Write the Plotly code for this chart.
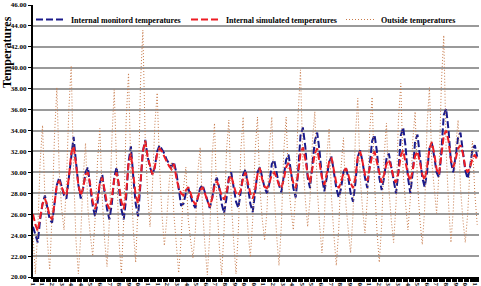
import plotly.graph_objects as go

# readings every 4 hours (day by day: 0h,4h,8h,12h,16h,20h)
outside = [
    24.0, 20.3, 24.5, 31.0, 34.5, 27.5,
    23.5, 20.7, 26.0, 33.5, 38.1, 30.0,
    26.5, 24.5, 29.0, 36.0, 40.2, 30.0,
    23.5, 20.3, 24.0, 29.5, 32.8, 26.5,
    24.0, 22.0, 25.5, 31.0, 34.2, 27.5,
    23.5, 21.0, 25.5, 33.0, 37.9, 29.5,
    23.5, 20.3, 25.5, 35.0, 39.5, 30.0,
    24.5, 21.4, 27.0, 38.5, 43.6, 33.0,
    28.0, 24.8, 28.5, 34.5, 37.6, 30.5,
    26.0, 23.0, 25.5, 29.0, 31.0, 26.0,
    23.0, 20.4, 23.5, 28.5, 30.5, 25.5,
    23.5, 21.8, 24.5, 30.0, 32.4, 26.5,
    23.0, 20.2, 24.0, 31.5, 34.7, 27.0,
    23.0, 20.2, 24.5, 32.0, 35.0, 27.5,
    23.5, 20.3, 24.5, 32.0, 35.3, 28.0,
    24.5, 21.9, 25.5, 32.0, 35.3, 28.5,
    25.5, 23.5, 26.5, 32.5, 35.3, 28.0,
    24.0, 21.1, 25.0, 32.0, 35.3, 29.0,
    26.5, 24.5, 28.0, 35.5, 39.8, 31.0,
    27.5, 24.8, 27.5, 33.0, 35.8, 28.5,
    25.0, 22.3, 25.5, 31.5, 34.2, 27.5,
    24.0, 21.1, 24.5, 30.5, 33.3, 27.0,
    24.5, 22.3, 26.0, 33.5, 37.1, 29.5,
    26.5, 24.2, 27.5, 34.0, 37.2, 29.0,
    24.5, 21.4, 25.0, 31.5, 34.7, 28.5,
    25.5, 23.3, 27.0, 35.0, 38.5, 30.0,
    27.0, 24.5, 27.5, 33.0, 35.8, 29.0,
    25.5, 23.1, 26.5, 34.5, 38.1, 31.0,
    28.5, 26.1, 30.0, 38.5, 43.1, 32.0,
    27.0, 23.3, 26.5, 32.5, 35.0, 28.5,
    25.5, 23.3, 26.0, 30.5, 33.0, 28.0,
    25.0,
]

monitored = [
    24.8, 24.0, 23.3, 25.5, 27.0, 27.8,
    26.8, 25.5, 25.2, 27.0, 28.8, 29.5,
    28.5, 27.8, 27.5, 29.5, 32.0, 33.4,
    31.0, 28.8, 27.5, 28.5, 30.0, 30.5,
    28.5, 26.8, 25.8, 27.0, 29.0, 29.8,
    28.0, 26.5, 25.5, 27.0, 29.5, 30.5,
    28.5, 26.5, 25.5, 27.5, 31.0, 32.5,
    29.5, 27.0, 25.8, 28.5, 32.0, 33.1,
    31.5, 30.5, 29.8, 30.5, 32.0, 32.6,
    32.2, 31.8, 31.2, 30.8, 30.5, 31.0,
    30.0, 28.5, 26.8, 27.0, 28.0, 28.5,
    27.8, 27.0, 26.6, 27.5, 28.5, 28.8,
    28.0, 27.2, 26.6, 27.5, 29.0, 29.5,
    28.5, 27.0, 26.1, 27.5, 29.5, 30.0,
    28.5, 27.2, 26.6, 28.0, 29.8, 30.3,
    28.5, 27.0, 26.2, 28.0, 30.0, 30.5,
    29.5, 28.5, 28.0, 29.0, 30.8, 31.2,
    30.0, 28.8, 28.1, 29.5, 31.2, 31.7,
    30.0, 28.5, 27.6, 30.0, 33.5, 34.3,
    32.5, 29.5, 28.5, 30.5, 33.0, 33.8,
    32.0, 29.5, 28.2, 29.5, 31.0, 31.5,
    30.0, 28.5, 27.6, 28.5, 30.0, 30.5,
    29.5, 28.0, 27.2, 29.0, 31.5, 32.1,
    31.0, 29.5, 28.5, 30.5, 33.0, 33.6,
    32.0, 29.5, 28.3, 29.5, 31.3, 31.8,
    30.5, 29.0, 28.0, 30.0, 33.5, 34.3,
    32.5, 29.5, 28.0, 30.0, 33.0, 33.6,
    31.5, 29.5, 28.6, 30.0, 32.3, 32.8,
    31.5, 30.0, 29.5, 32.0, 35.5, 36.1,
    34.0, 31.0, 30.0, 31.5, 33.3, 33.8,
    32.0, 30.2, 29.4, 30.5, 32.2, 32.6,
    31.5,
]

simulated = [
    26.0, 25.0, 24.4, 25.8, 27.0, 27.5,
    26.8, 25.8, 25.5, 27.0, 28.8, 29.2,
    28.5, 28.0, 27.8, 29.5, 31.8, 32.5,
    30.8, 28.8, 27.8, 28.5, 29.8, 30.0,
    28.8, 27.2, 26.5, 27.5, 29.0, 29.5,
    28.3, 27.0, 26.5, 27.5, 29.3, 30.0,
    28.8, 27.2, 26.5, 28.0, 30.8, 31.8,
    29.8, 27.8, 27.0, 29.0, 32.0, 33.0,
    31.5, 30.5, 29.8, 30.5, 31.8, 32.3,
    32.0, 31.5, 31.0, 30.6, 30.3, 30.8,
    29.5, 28.5, 28.0, 27.8, 28.3, 28.6,
    28.0, 27.3, 26.9, 27.5, 28.3, 28.6,
    28.0, 27.3, 26.7, 27.5, 28.7, 29.2,
    28.5, 27.8, 27.4, 28.0, 29.3, 29.7,
    28.8, 28.0, 27.8, 28.3, 29.5, 30.0,
    29.0, 28.0, 27.5, 28.3, 29.8, 30.4,
    29.3, 28.6, 28.5, 29.0, 29.8, 30.0,
    29.5, 28.8, 28.5, 29.3, 30.5, 30.9,
    30.0, 29.0, 28.5, 29.8, 31.8, 32.4,
    31.3, 29.8, 29.0, 30.3, 31.8, 32.3,
    31.0, 29.5, 28.8, 29.8, 31.0, 31.4,
    30.0, 29.0, 28.5, 29.0, 30.0, 30.4,
    29.8, 29.0, 28.5, 29.5, 31.5, 32.0,
    31.0, 29.8, 29.2, 30.3, 31.6, 32.0,
    31.0, 29.8, 29.0, 29.8, 30.8, 31.2,
    30.5, 29.5, 29.0, 30.0, 31.6, 32.1,
    31.0, 29.8, 29.2, 30.2, 31.6, 32.0,
    31.0, 29.8, 29.3, 30.5, 32.3, 32.9,
    31.8, 30.3, 29.8, 31.5, 33.5, 34.0,
    33.0, 31.2, 30.5, 31.3, 32.3, 32.6,
    31.8, 30.5, 30.0, 30.5, 31.3, 31.7,
    31.2,
]

tick_labels = ["1", "1", "2", "3", "4", "4", "5", "6", "7", "8", "9", "0",
               "1", "1", "2", "3", "4", "5", "6", "7", "8", "9", "0", "0",
               "1", "2", "3", "4", "5", "5", "6", "7", "8", "9", "0",
               "1", "2", "3", "3", "4", "5", "6", "7", "8", "9", "0", "1"]

STEP_H = 4
LABEL_EVERY_H = 16.1
hours = [i * STEP_H for i in range(len(outside))]
tick_pos = [i * LABEL_EVERY_H for i in range(len(tick_labels))]

SERIF = "Liberation Serif"
PLOT_W = 446.0

fig = go.Figure()
fig.add_trace(go.Scatter(x=hours, y=monitored, mode="lines",
                         name="Internal monitord temperatures", legend="legend",
                         line=dict(color="#1a1a8a", width=2, dash="7px,3px")))
fig.add_trace(go.Scatter(x=hours, y=simulated, mode="lines",
                         name="Internal simulated temperatures", legend="legend2",
                         line=dict(color="#ee1c24", width=2, dash="7px,3px")))
fig.add_trace(go.Scatter(x=hours, y=outside, mode="lines",
                         name="Outside temperatures", legend="legend3",
                         line=dict(color="#c87a4a", width=1, dash="1px,2px")))

leg_common = dict(orientation="h", y=1.0, xanchor="left", yanchor="top",
                  bgcolor="rgba(0,0,0,0)", itemwidth=30,
                  font=dict(size=8, family=SERIF, weight="bold"))

fig.update_layout(
    width=481, height=286,
    margin=dict(l=33, r=2, t=5, b=9),
    paper_bgcolor="white", plot_bgcolor="white",
    font=dict(family=SERIF, color="black"),
    legend=dict(x=-2 / PLOT_W, **leg_common),
    legend2=dict(x=(186 - 33) / PLOT_W, **leg_common),
    legend3=dict(x=(341 - 33) / PLOT_W, **leg_common),
    showlegend=True,
)
fig.add_annotation(text="Temperatures", textangle=-90, xref="paper", yref="paper",
                   x=-26 / PLOT_W, y=(277 - 52) / 272.0, xanchor="center", yanchor="middle",
                   showarrow=False, font=dict(size=12, family=SERIF, weight="bold", color="black"))
fig.update_xaxes(range=[0, 747], tickmode="array", tickvals=tick_pos, ticktext=tick_labels,
                 tickangle=90, tickfont=dict(size=7, family=SERIF, weight="bold"),
                 showgrid=False, showline=True, linecolor="black", linewidth=2,
                 ticks="outside", ticklen=3, tickcolor="black", tickwidth=1,
                 ticklabelstandoff=-1,
                 minor=dict(dtick=2, ticks="outside", ticklen=3, tickcolor="black", tickwidth=1),
                 zeroline=False, automargin=False)
fig.update_yaxes(range=[20, 46], dtick=2, tickformat=".2f",
                 tickfont=dict(size=7, family=SERIF, weight="bold"),
                 showgrid=True, gridcolor="#9a9a9a", gridwidth=1.5,
                 showline=True, linecolor="black", linewidth=2,
                 ticks="outside", ticklen=3, tickcolor="black",
                 zeroline=False, automargin=False)

fig.write_html("out.html")
